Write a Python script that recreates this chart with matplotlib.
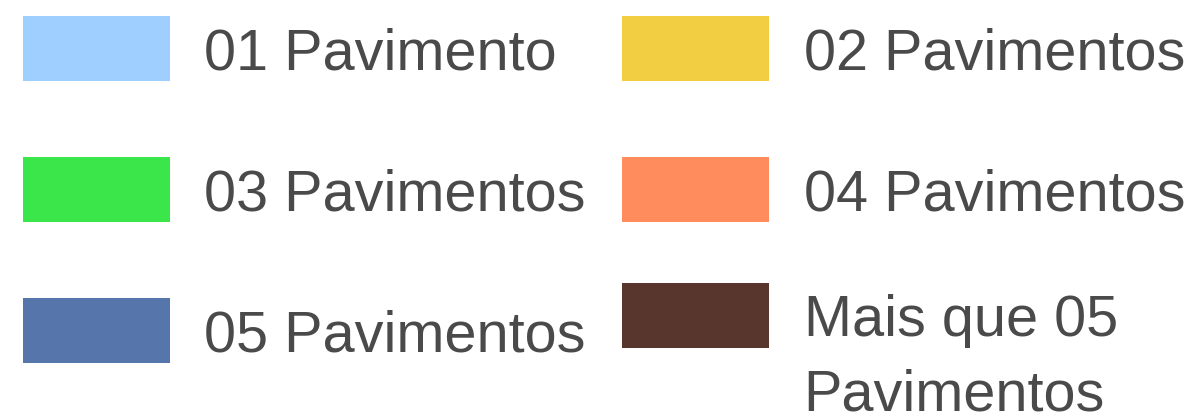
import matplotlib.pyplot as plt
import numpy as np

labels = [
    '01 Pavimento',
    '02 Pavimentos',
    '03 Pavimentos',
    '04 Pavimentos',
    '05 Pavimentos',
    'Mais que 05\nPavimentos',
]
colors = ['#9fcfff', '#f2ce42', '#3ae64a', '#ff8c5c', '#5676ab', '#58362e']

plt.rcParams['font.family'] = ['Liberation Sans', 'DejaVu Sans']

fig = plt.figure(figsize=(12, 4.18), dpi=100)
ax = fig.add_axes([0, 0, 1, 1])
# axes in pixel units, y pointing down
ax.set_xlim(0, 1200)
ax.set_ylim(418, 0)
ax.axis('off')

# two-column legend grid
idx = np.arange(len(labels))
col = idx % 2
row = idx // 2
col_x = np.array([23, 622])
row_y = np.array([48.5, 189.5, 330.5])
sw_w, sw_h = 147, 65
line_pitch = 74

for i, (lab, c) in enumerate(zip(labels, colors)):
    y = row_y[row[i]]
    n_extra = lab.count('\n')
    if n_extra:
        # swatch lines up with the first line of a wrapped label
        y -= 15
    ax.barh(y, sw_w, height=sw_h, left=col_x[col[i]], color=c, linewidth=0)
    # baseline of a multi-line text sits on its last line
    ax.text(col_x[col[i]] + 181.5, y + 21 + n_extra * line_pitch, lab,
            fontsize=41.5, color='#4a4a4a', va='baseline', ha='left',
            linespacing=1.48)

fig.savefig('out.png', dpi=100)
